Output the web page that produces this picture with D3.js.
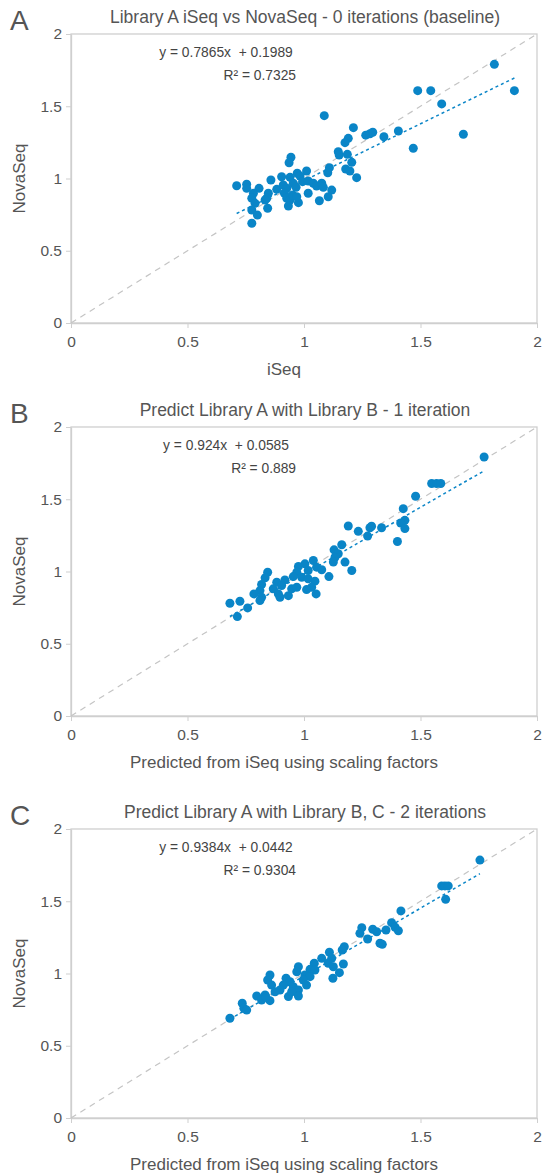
<!DOCTYPE html>
<html>
<head>
<meta charset="utf-8">
<script src="https://cdn.jsdelivr.net/npm/d3@7"></script>
<style>
  body { margin: 0; background: #fff; }
  svg text { font-family: "Liberation Sans", Arial, sans-serif; fill: #555; }
  .eq { white-space: pre; }
</style>
</head>
<body>
<div class="chart"></div>
<script>
// panel A: iSeq vs NovaSeq (baseline)
const aX = [1.087, 1.212, 1.265, 1.283, 1.295, 1.19, 1.176, 1.147, 1.151, 1.186, 1.205, 1.179, 1.197, 1.226,
  1.109, 1.102, 0.944, 0.936, 1.011, 0.971, 0.983, 0.904, 0.94, 0.858, 0.711, 0.754, 0.754, 0.807, 0.783, 0.776,
  0.847, 0.84, 0.833, 0.883, 0.911, 0.926, 0.916, 0.954, 0.966, 0.994, 1.018, 1.04, 1.054, 1.076, 1.083, 1.119,
  1.104, 1.066, 1.018, 0.926, 0.94, 0.933, 0.976, 0.951, 0.969, 0.79, 0.776, 0.8, 0.844, 0.776,
  1.817, 1.488, 1.544, 1.903, 1.591, 1.343, 1.405, 1.469, 1.684]
const aY = [1.435, 1.352, 1.30, 1.31, 1.32, 1.278, 1.248, 1.185, 1.163, 1.167, 1.112, 1.066, 1.052, 1.006,
  1.075, 1.04, 1.147, 1.109, 1.052, 1.036, 1.017, 1.012, 1.008, 0.99, 0.95, 0.96, 0.932, 0.932, 0.898, 0.863,
  0.898, 0.863, 0.851, 0.925, 0.955, 0.932, 0.898, 0.967, 0.939, 0.978, 0.983, 0.967, 0.948, 0.967, 0.939, 0.92,
  0.874, 0.846, 0.898, 0.863, 0.851, 0.81, 0.833, 0.886, 0.874, 0.828, 0.782, 0.747, 0.794, 0.69,
  1.79, 1.608, 1.608, 1.608, 1.516, 1.289, 1.329, 1.209, 1.306]

// panel B: one iteration
const bX = [1.19, 1.233, 1.283, 1.29, 1.273, 1.162, 1.129, 1.147, 1.133, 1.126, 1.176, 1.205,
  1.04, 1.004, 0.976, 0.969, 1.018, 1.054, 1.076, 0.954, 0.99, 1.018, 1.047, 1.033, 1.011, 1.107, 1.052,
  0.844, 0.833, 0.818, 0.811, 0.883, 0.918, 0.904, 0.868, 0.89, 0.933, 0.897, 0.947, 0.969,
  0.785, 0.818, 0.811, 0.682, 0.725, 0.758, 0.714,
  1.773, 1.548, 1.569, 1.587, 1.479, 1.426, 1.433, 1.415, 1.433, 1.333, 1.401]
const bY = [1.315, 1.278, 1.303, 1.313, 1.245, 1.185, 1.15, 1.123, 1.099, 1.065, 1.065, 1.007,
  1.076, 1.053, 1.035, 0.995, 1.007, 1.03, 1.012, 0.965, 0.96, 0.949, 0.933, 0.891, 0.875, 0.965, 0.845,
  0.995, 0.956, 0.91, 0.868, 0.926, 0.942, 0.903, 0.88, 0.845, 0.833, 0.822, 0.88, 0.891,
  0.845, 0.822, 0.799, 0.78, 0.794, 0.748, 0.688,
  1.792, 1.609, 1.609, 1.609, 1.521, 1.435, 1.354, 1.335, 1.297, 1.303, 1.208]

// panel C: two iterations
const cX = [1.248, 1.24, 1.295, 1.312, 1.273, 1.326, 1.173, 1.164,
  1.109, 1.119, 1.104, 1.126, 1.076, 1.169, 1.152, 1.124,
  1.044, 1.026, 1.047, 0.976, 0.969, 1.004, 1.026, 0.997, 1.011,
  0.854, 0.844, 0.861, 0.923, 0.94, 0.911, 0.897, 0.876, 0.954, 0.976, 0.933, 0.976, 0.947,
  0.797, 0.833, 0.818, 0.854, 0.837, 0.735, 0.742, 0.754, 0.682,
  1.755, 1.591, 1.605, 1.619, 1.608, 1.416, 1.376, 1.391, 1.405, 1.352, 1.336]
const cY = [1.317, 1.278, 1.306, 1.289, 1.239, 1.209, 1.185, 1.163,
  1.147, 1.105, 1.071, 1.047, 1.105, 1.066, 1.006, 0.967,
  1.071, 1.029, 1.024, 1.047, 1.012, 0.99, 0.978, 0.955, 0.92,
  0.99, 0.955, 0.92, 0.967, 0.943, 0.92, 0.886, 0.874, 0.909, 0.886, 0.84, 0.844, 0.874,
  0.844, 0.851, 0.817, 0.812, 0.835, 0.794, 0.759, 0.747, 0.69,
  1.785, 1.606, 1.606, 1.606, 1.513, 1.433, 1.352, 1.32, 1.296, 1.301, 1.202]

const letters = ["A", "B", "C"]
const titles = [
  "Library A iSeq vs NovaSeq - 0 iterations (baseline)",
  "Predict Library A with Library B - 1 iteration",
  "Predict Library A with Library B, C - 2 iterations"
]
const xLabels = ["iSeq", "Predicted from iSeq using scaling factors", "Predicted from iSeq using scaling factors"]
const yLabel = "NovaSeq"
const slopes = [0.7865, 0.924, 0.9384]
const intercepts = [0.1989, 0.0585, 0.0442]
const eqTexts = ["y = 0.7865x  + 0.1989", "y = 0.924x  + 0.0585", "y = 0.9384x  + 0.0442"]
const r2Texts = ["R² = 0.7325", "R² = 0.889", "R² = 0.9304"]
const ticks = [0, 0.5, 1, 1.5, 2]

const width = 542, height = 1176
const svg = d3.select(".chart").append("svg").attr("width", width).attr("height", height)

const panelTops = [34, 427, 829]
const left = 71, right = 537, plotH = 289
const dotColor = "#0a85c7"
const xs = [aX, bX, cX], ys = [aY, bY, cY]

const x = d3.scaleLinear().domain([0, 2]).range([left, right])

panelTops.forEach(function (top, p) {
  const y = d3.scaleLinear().domain([0, 2]).range([top + plotH, top])
  const g = svg.append("g")

  // frame
  g.append("rect")
    .attr("x", left).attr("y", top)
    .attr("width", right - left).attr("height", plotH)
    .attr("fill", "none").attr("stroke", "#cfcfcf").attr("stroke-width", 1.3)

  // axes
  const xAxis = g.append("g").attr("transform", "translate(0," + (top + plotH) + ")")
    .call(d3.axisBottom(x).tickValues(ticks).tickFormat(d3.format("")).tickSize(5).tickSizeOuter(0))
  const yAxis = g.append("g").attr("transform", "translate(" + left + ",0)")
    .call(d3.axisLeft(y).tickValues(ticks).tickFormat(d3.format("")).tickSize(5).tickSizeOuter(0))
  ;[xAxis, yAxis].forEach(a => {
    a.select(".domain").attr("stroke", "#cfcfcf").attr("stroke-width", 1.3)
    a.selectAll(".tick line").attr("stroke", "#cfcfcf")
    a.selectAll(".tick text").attr("font-size", 15.5).style("fill", "#555")
  })
  xAxis.selectAll(".tick text").attr("dy", "1.05em")
  yAxis.selectAll(".tick text").attr("x", -9)

  // y = x reference line
  g.append("line")
    .attr("x1", x(0)).attr("y1", y(0)).attr("x2", x(2)).attr("y2", y(2))
    .attr("stroke", "#c4c4c4").attr("stroke-width", 1.2).attr("stroke-dasharray", "6,5")

  // regression line over data range
  const xMin = d3.min(xs[p]), xMax = d3.max(xs[p])
  g.append("line")
    .attr("x1", x(xMin)).attr("y1", y(slopes[p] * xMin + intercepts[p]))
    .attr("x2", x(xMax)).attr("y2", y(slopes[p] * xMax + intercepts[p]))
    .attr("stroke", dotColor).attr("stroke-width", 1.5).attr("stroke-dasharray", "3,3")

  // points
  g.selectAll("circle.pt")
    .data(xs[p].map((v, i) => [v, ys[p][i]]))
    .enter()
    .append("circle")
    .attr("class", "pt")
    .attr("cx", d => x(d[0]))
    .attr("cy", d => y(d[1]))
    .attr("r", 4.5)
    .attr("fill", dotColor)

  // equation
  g.append("text").attr("class", "eq").attr("x", 226).attr("y", top + 23).attr("text-anchor", "middle")
    .attr("font-size", 13.8).style("fill", "#444").text(eqTexts[p])
  g.append("text").attr("x", 296).attr("y", top + 46).attr("text-anchor", "end")
    .attr("font-size", 13.8).style("fill", "#444").text(r2Texts[p])

  // titles and labels
  g.append("text").attr("x", 305).attr("y", top - 11).attr("text-anchor", "middle")
    .attr("font-size", 17.5).text(titles[p])
  g.append("text").attr("x", 10).attr("y", top - 4)
    .attr("font-size", 28).text(letters[p])
  g.append("text").attr("x", 284).attr("y", top + plotH + 52).attr("text-anchor", "middle")
    .attr("font-size", 17).text(xLabels[p])
  g.append("text")
    .attr("transform", "translate(25," + (top + plotH / 2) + ") rotate(-90)")
    .attr("text-anchor", "middle").attr("font-size", 17).text(yLabel)
})
</script>
</body>
</html>
